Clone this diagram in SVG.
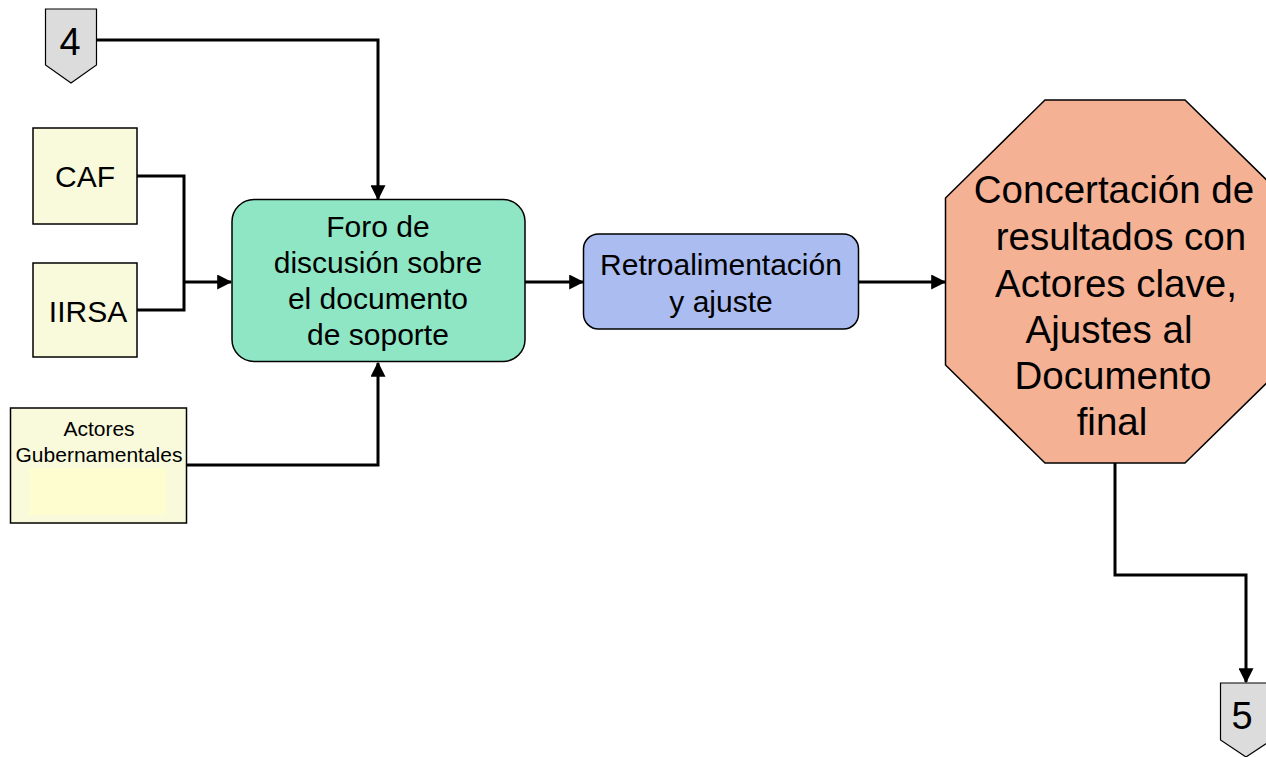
<svg xmlns="http://www.w3.org/2000/svg" width="1266" height="757" viewBox="0 0 1266 757">
<style>
text{font-family:"Liberation Sans",Arial,sans-serif;fill:#000;text-anchor:middle}
.box{stroke:#000;stroke-width:1.5}
.yel{fill:#f8fadb}
.mark{fill:#dcdcdc;stroke:#000;stroke-width:1.2}
.conn{fill:none;stroke:#000;stroke-width:3}
.t30{font-size:30px}
.t36{font-size:38.5px}
.t21{font-size:21px}
.t38{font-size:38px}
</style>
<defs>
<marker id="ah" markerWidth="5" markerHeight="5" refX="4.6" refY="2.5" orient="auto" markerUnits="strokeWidth" viewBox="0 0 5 5">
<path d="M0,0 L5,2.5 L0,5 Z" fill="#000"/>
</marker>
</defs>
<rect width="1266" height="757" fill="#fff"/>
<g id="connectors">
<path class="conn" d="M96,40 H378 V199" marker-end="url(#ah)"/>
<path class="conn" d="M137,176 H184 V310 H137"/>
<path class="conn" d="M184,282 H231" marker-end="url(#ah)"/>
<path class="conn" d="M187,465 H378 V363" marker-end="url(#ah)"/>
<path class="conn" d="M525,282 H583" marker-end="url(#ah)"/>
<path class="conn" d="M858,282 H945" marker-end="url(#ah)"/>
<path class="conn" d="M1115,463 V575 H1246 V682" marker-end="url(#ah)"/>
</g>
<g id="marker4">
<path class="mark" d="M45.5,9 H96.5 V65 L71,83 L45.5,65 Z"/>
<text class="t38" x="70" y="55">4</text>
</g>
<g id="caf">
<rect class="box yel" x="33" y="128" width="104" height="96"/>
<text class="t30" x="85" y="187">CAF</text>
</g>
<g id="iirsa">
<rect class="box yel" x="33" y="263" width="104" height="94"/>
<text class="t30" x="88" y="322">IIRSA</text>
</g>
<g id="actores">
<rect class="box yel" x="10.5" y="408" width="176" height="115"/>
<rect x="29" y="468" width="137" height="47" fill="#fdfdcf"/>
<text class="t21" x="99" y="436">Actores</text>
<text class="t21" x="99" y="462">Gubernamentales</text>
</g>
<g id="foro">
<rect class="box" x="232" y="199.5" width="293" height="162" rx="22" fill="#8ee6c4"/>
<text class="t30" x="378" y="237">Foro de</text>
<text class="t30" x="378" y="273">discusión sobre</text>
<text class="t30" x="378" y="309">el documento</text>
<text class="t30" x="378" y="345">de soporte</text>
</g>
<g id="retro">
<rect class="box" x="583.5" y="234" width="275" height="95" rx="15" fill="#abbcf0"/>
<text class="t30" x="721" y="275">Retroalimentación</text>
<text class="t30" x="721" y="312">y ajuste</text>
</g>
<g id="concertacion">
<path class="box" d="M1045,100 H1185 L1285,198 V365 L1185,463 H1045 L945.5,365 V198 Z" fill="#f5b194"/>
<text class="t36" x="1114" y="203">Concertación de</text>
<text class="t36" x="1121" y="250">resultados con</text>
<text class="t36" x="1116" y="297">Actores clave,</text>
<text class="t36" x="1109" y="343">Ajustes al</text>
<text class="t36" x="1113" y="389">Documento</text>
<text class="t36" x="1112" y="435">final</text>
</g>
<g id="marker5">
<path class="mark" d="M1220.5,683 H1271.5 V740 L1246,757 L1220.5,740 Z"/>
<text class="t38" x="1242" y="729">5</text>
</g>
</svg>
